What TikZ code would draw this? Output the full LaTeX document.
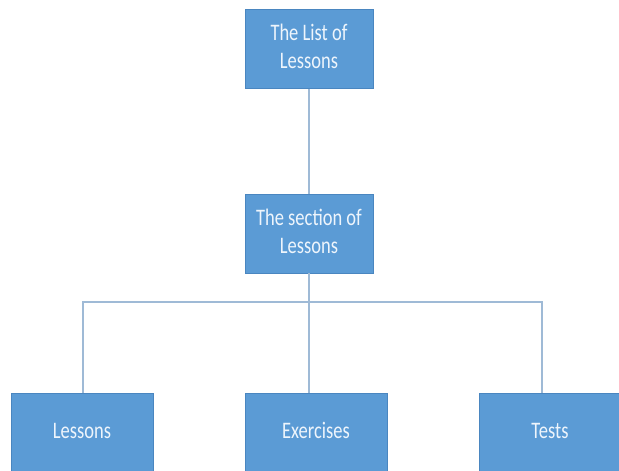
\documentclass[tikz,border=0pt]{standalone}
\usepackage{fontspec}
\setmainfont{Carlito}
\definecolor{boxblue}{HTML}{5B9BD5}
\definecolor{boxedge}{HTML}{4A86C0}
\definecolor{linkblue}{HTML}{9FBAD6}
\definecolor{boxtext}{HTML}{EEF5FC}
% Calibri-like text, drawn a little taller than wide
\newcommand{\tallbox}[1]{\scalebox{1}[1.28]{\begin{tabular}{@{}c@{}}#1\end{tabular}}}
\tikzset{
  lesbox/.style={draw=boxedge, fill=boxblue, text=boxtext, align=center,
    inner sep=0pt, minimum height=79pt, minimum width=142pt,
    font=\fontsize{18.5}{21.9}\selectfont},
  headbox/.style={lesbox, minimum width=128pt},
  link/.style={draw=linkblue, line width=1.2pt}
}
\begin{document}
\begin{tikzpicture}[x=1pt,y=1pt]
\clip (0,0) rectangle (619,471);
\useasboundingbox (0,0) rectangle (619,471);
\node[headbox] (list) at (309,422) {\tallbox{The List of\\Lessons}};
\node[headbox] (section) at (309,237.5) {\tallbox{The section of\\Lessons}};
\node[lesbox] (lessons) at (82,38.5) {\tallbox{Lessons}};
\node[lesbox] (exercises) at (316,38.5) {\tallbox{Exercises}};
\node[lesbox] (tests) at (550,38.5) {\tallbox{Tests}};
\coordinate (fork) at (309,169);
\path[link] (list) -- (section);
\path[link] (section) -- (fork);
\path[link] (fork) -| ([xshift=1pt]lessons.north);
\path[link] (fork) -- ([xshift=-7pt]exercises.north);
\path[link] (fork) -| ([xshift=-8pt]tests.north);
\end{tikzpicture}
\end{document}
